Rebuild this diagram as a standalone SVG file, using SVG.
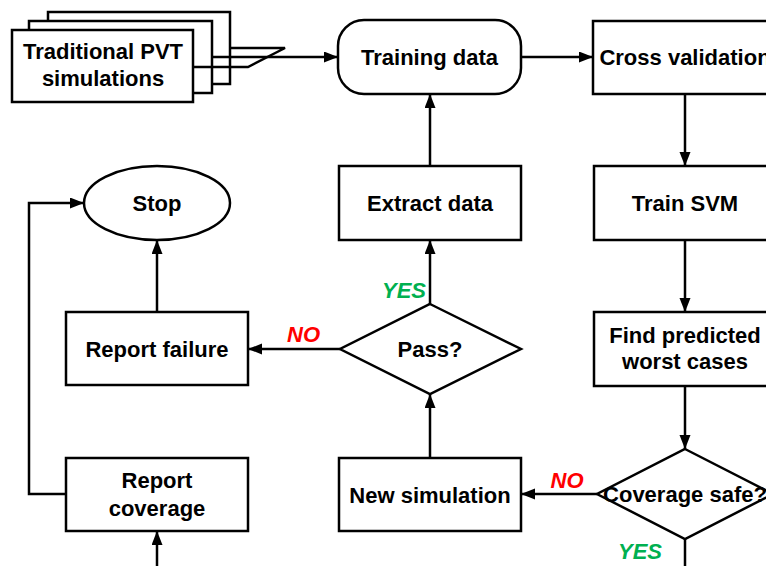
<svg xmlns="http://www.w3.org/2000/svg" width="766" height="566" viewBox="0 0 766 566">
  <style>
    .box { fill: #ffffff; stroke: #000000; stroke-width: 2.5; }
    .line { fill: none; stroke: #000000; stroke-width: 2.5; }
    .lbl { font-family: "Liberation Sans", Arial, sans-serif; font-weight: bold; font-size: 22px; fill: #000000; text-anchor: middle; }
    .no { font-family: "Liberation Sans", Arial, sans-serif; font-weight: bold; font-style: italic; font-size: 22px; fill: #ff0000; text-anchor: middle; }
    .yes { font-family: "Liberation Sans", Arial, sans-serif; font-weight: bold; font-style: italic; font-size: 22px; fill: #00b050; text-anchor: middle; }
  </style>
  <defs>
    <marker id="arrow" markerUnits="userSpaceOnUse" markerWidth="15" markerHeight="12" refX="14" refY="5.5" orient="auto">
      <path d="M0,0 L14,5.5 L0,11 Z" fill="#000000"/>
    </marker>
  </defs>
  <rect width="766" height="566" fill="#ffffff"/>

  <!-- stacked document sheets -->
  <g id="pvt">
    <rect class="box" x="48" y="12" width="182" height="72"/>
    <rect class="box" x="29" y="21" width="183" height="72"/>
    <rect class="box" x="12" y="30" width="181" height="72"/>
    <path class="line" d="M230,48 H285 L248,67 H193"/>
    <text class="lbl" x="103" y="59">Traditional PVT</text>
    <text class="lbl" x="103" y="85.5">simulations</text>
  </g>

  <g id="training">
    <rect class="box" x="338" y="20" width="183" height="74" rx="26" ry="26"/>
    <text class="lbl" x="429.5" y="65">Training data</text>
  </g>

  <g id="crossval">
    <rect class="box" x="593" y="21" width="184" height="73"/>
    <text class="lbl" x="685" y="65">Cross validation</text>
  </g>

  <g id="extract">
    <rect class="box" x="339" y="166" width="182" height="74"/>
    <text class="lbl" x="430" y="211">Extract data</text>
  </g>

  <g id="trainsvm">
    <rect class="box" x="594" y="166" width="184" height="74"/>
    <text class="lbl" x="685" y="211">Train SVM</text>
  </g>

  <g id="stop">
    <ellipse class="box" cx="157" cy="203" rx="73" ry="37"/>
    <text class="lbl" x="157" y="211">Stop</text>
  </g>

  <g id="failure">
    <rect class="box" x="66" y="312" width="182" height="73"/>
    <text class="lbl" x="157" y="356.5">Report failure</text>
  </g>

  <g id="pass">
    <polygon class="box" points="430,304 521,349 430,394 340,349"/>
    <text class="lbl" x="430" y="357">Pass?</text>
  </g>

  <g id="findworst">
    <rect class="box" x="594" y="312" width="184" height="74"/>
    <text class="lbl" x="685" y="343">Find predicted</text>
    <text class="lbl" x="685" y="369">worst cases</text>
  </g>

  <g id="coverage">
    <rect class="box" x="66" y="458" width="182" height="73"/>
    <text class="lbl" x="157" y="488">Report</text>
    <text class="lbl" x="157" y="515.5">coverage</text>
  </g>

  <g id="newsim">
    <rect class="box" x="339" y="458" width="182" height="73"/>
    <text class="lbl" x="430" y="502.5">New simulation</text>
  </g>

  <g id="safe">
    <polygon class="box" points="685,449 773,494 685,539 597,494"/>
    <text class="lbl" x="685" y="502">Coverage safe?</text>
  </g>

  <g id="connectors">
    <path class="line" d="M212,57 H338" marker-end="url(#arrow)"/>
    <path class="line" d="M521,57 H593" marker-end="url(#arrow)"/>
    <path class="line" d="M685,94 V166" marker-end="url(#arrow)"/>
    <path class="line" d="M685,240 V312" marker-end="url(#arrow)"/>
    <path class="line" d="M685,386 V449" marker-end="url(#arrow)"/>
    <path class="line" d="M685,539 V566"/>
    <path class="line" d="M597,494 H521" marker-end="url(#arrow)"/>
    <path class="line" d="M430,458 V394" marker-end="url(#arrow)"/>
    <path class="line" d="M430,304 V240" marker-end="url(#arrow)"/>
    <path class="line" d="M430,166 V94" marker-end="url(#arrow)"/>
    <path class="line" d="M340,349 H248" marker-end="url(#arrow)"/>
    <path class="line" d="M157,312 V240" marker-end="url(#arrow)"/>
    <path class="line" d="M66,494 H29 V203 H84" marker-end="url(#arrow)"/>
    <path class="line" d="M157,566 V531" marker-end="url(#arrow)"/>
  </g>

  <g id="branch-labels">
    <text class="yes" x="404" y="298">YES</text>
    <text class="no" x="303.5" y="342">NO</text>
    <text class="no" x="567" y="488">NO</text>
    <text class="yes" x="640" y="559">YES</text>
  </g>
</svg>
